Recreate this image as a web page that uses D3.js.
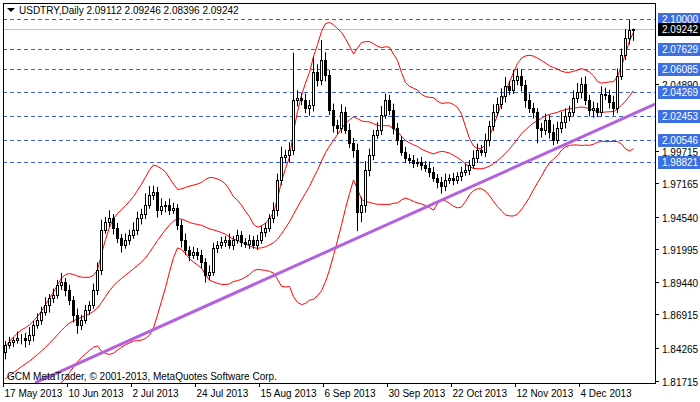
<!DOCTYPE html>
<html><head><meta charset="utf-8">
<script src="https://cdn.jsdelivr.net/npm/d3@7"></script>
<style>body{margin:0;background:#fff}svg{display:block}text{font-family:"Liberation Sans",Arial,sans-serif;font-size:10px}</style>
</head><body><svg id="c" width="700" height="402"></svg>
<script>
const title = "USDTRY,Daily  2.09112 2.09246 2.08396 2.09242";
const watermark = "GCM MetaTrader, © 2001-2013, MetaQuotes Software Corp.";
const preCloses = [1.7985,1.8010,1.8032,1.8021,1.8050,1.8074,1.8102,1.8090,1.8135,1.8160,1.8188,1.8175,1.8210,1.8236,1.8262,1.8250,1.8288,1.8320,1.8345,1.8400];
const closes = [1.8454,1.8477,1.8493,1.8508,1.8508,1.8493,1.8532,1.8610,1.8649,1.8711,1.8766,1.8821,1.8844,1.8922,1.8946,1.8883,1.8805,1.8688,1.8610,1.8649,
1.8727,1.8766,1.8883,1.9039,1.9352,1.9414,1.9445,1.9367,1.9289,1.9235,1.9274,1.9313,1.9352,1.9445,1.9477,1.9547,1.9625,1.9648,1.9508,1.9539,
1.9547,1.9508,1.9524,1.9391,1.9274,1.9195,1.9156,1.9180,1.9156,1.9102,1.9000,1.9024,1.9211,1.9235,1.9258,1.9274,1.9235,1.9274,1.9313,1.9258,
1.9242,1.9274,1.9235,1.9274,1.9336,1.9367,1.9445,1.9508,1.9742,1.9922,1.9937,1.9976,2.0367,2.0383,2.0367,2.0305,2.0328,2.0586,2.0523,2.0679,
2.0562,2.0289,2.0172,2.0148,2.0273,2.0133,2.0031,1.9976,1.9492,1.9547,1.9820,1.9937,2.0094,2.0133,2.0250,2.0367,2.0289,2.0148,2.0055,1.9961,
1.9914,1.9898,1.9875,1.9883,1.9859,1.9836,1.9805,1.9758,1.9727,1.9695,1.9742,1.9758,1.9742,1.9773,1.9805,1.9820,1.9859,1.9914,1.9976,1.9961,
2.0055,2.0164,2.0273,2.0336,2.0398,2.0476,2.0445,2.0523,2.0554,2.0484,2.0367,2.0305,2.0273,2.0148,2.0133,2.0211,2.0117,2.0055,2.0148,2.0195,
2.0242,2.0273,2.0383,2.0429,2.0492,2.0367,2.0289,2.0305,2.0273,2.0414,2.0406,2.0351,2.0305,2.0554,2.0718,2.0851,2.0914,2.0924];
// upper / lower wick lengths, in pips (1e-4)
const wickUp = [30,40,20,50,30,40,60,30,50,40,60,30,50,40,70,30,40,30,50,40,
40,30,50,60,80,40,60,30,40,30,50,40,60,50,40,90,70,50,40,60,
30,50,40,30,40,50,30,40,30,40,30,50,40,30,40,30,50,30,40,30,
30,40,30,40,50,40,30,60,50,80,40,60,370,60,40,50,40,120,60,157,
60,40,50,40,60,40,50,40,50,60,70,50,40,60,70,50,40,50,40,30,
40,30,40,30,40,30,50,40,30,40,50,30,40,30,40,50,40,60,50,40,
50,40,60,50,60,70,40,80,60,50,40,50,40,30,40,50,40,60,50,80,
60,50,60,70,50,60,40,50,40,60,50,40,50,60,50,70,80,1];
const wickDn = [60,30,40,30,50,60,40,50,30,40,30,60,40,30,40,50,40,60,70,40,
30,40,30,40,40,30,40,50,40,60,30,40,30,40,50,40,30,40,60,40,
50,40,30,40,60,40,50,30,40,50,60,40,30,40,30,40,30,40,30,40,
30,40,30,40,30,40,30,40,50,40,50,60,40,50,40,40,60,50,50,40,
50,40,60,50,40,30,40,60,150,80,60,50,40,30,40,30,40,50,40,30,
40,30,40,30,40,30,40,30,50,60,40,30,40,30,40,30,40,30,40,30,
40,50,40,30,40,50,40,30,40,50,60,40,50,120,60,40,50,40,30,40,
50,40,30,40,50,40,50,60,40,30,40,50,60,40,30,40,50,85];
const dateLabels = ["17 May 2013","10 Jun 2013","2 Jul 2013","24 Jul 2013","15 Aug 2013","6 Sep 2013","30 Sep 2013","22 Oct 2013","12 Nov 2013","4 Dec 2013"];
const dateLabelBars = [0,16,32,48,64,80,96,112,128,144];
const levels = [2.10000,2.07629,2.06085,2.04269,2.02453,2.00546,1.98821];
const plainTicks = [2.04890,1.99715,1.97165,1.94540,1.91995,1.89440,1.86915,1.84265,1.81715];
const lastPrice = 2.09242;
const trendBars = [7.5,162.5];
const trendPrices = [1.8157,2.0335];

const svg = d3.select("#c");
const L=3,R=655,T=3,B=383;
const y = d3.scaleLinear().domain([1.81715,2.10000]).range([381,19]);
const x = d3.scaleLinear().domain([0,1]).range([5,9]);
svg.append("rect").attr("x",0).attr("y",0).attr("width",700).attr("height",402).attr("fill","#fff");
svg.append("clipPath").attr("id","cp").append("rect").attr("x",L).attr("y",T).attr("width",R-L).attr("height",B-T);
const pg = svg.append("g").attr("clip-path","url(#cp)");

levels.forEach(v=>{
  pg.append("line").attr("x1",L).attr("x2",R).attr("y1",Math.round(y(v))+0.5).attr("y2",Math.round(y(v))+0.5)
    .attr("stroke","#3d5fd9").attr("stroke-dasharray","4,3").attr("stroke-width",1);
});
pg.append("line").attr("x1",L).attr("x2",R).attr("y1",Math.round(y(lastPrice))+0.5).attr("y2",Math.round(y(lastPrice))+0.5).attr("stroke","#c0c0c0");

const all = preCloses.concat(closes), n=preCloses.length;
const mid=[],up=[],lo=[];
closes.forEach((c,i)=>{
  const w = all.slice(i+n-19,i+n+1);
  const m = d3.mean(w), sd = Math.sqrt(d3.mean(w,v=>(v-m)*(v-m)));
  mid.push([i,m]);up.push([i,m+2*sd]);lo.push([i,m-2*sd]);
});
const ln = d3.line().x(d=>x(d[0])+0.5).y(d=>y(d[1]));
[mid,up,lo].forEach(s=>pg.append("path").attr("d",ln(s)).attr("fill","none").attr("stroke","#ff0000").attr("stroke-width",1));

pg.append("line").attr("x1",x(trendBars[0])).attr("x2",x(trendBars[1])).attr("y1",y(trendPrices[0])).attr("y2",y(trendPrices[1]))
  .attr("stroke","#b462dc").attr("stroke-width",3);

closes.forEach((c,i)=>{
  const o = i===0?preCloses[n-1]:closes[i-1];
  const hi = Math.max(o,c)+wickUp[i]*1e-4, lw = Math.min(o,c)-wickDn[i]*1e-4;
  const xc = Math.round(x(i));
  pg.append("line").attr("x1",xc+0.5).attr("x2",xc+0.5).attr("y1",y(hi)).attr("y2",y(lw)).attr("stroke","#000");
  const yt=Math.round(y(Math.max(o,c))), yb=Math.round(y(Math.min(o,c)));
  const bull = c>=o;
  pg.append("rect").attr("x",xc-1+0.5).attr("y",yt+0.5).attr("width",2).attr("height",Math.max(0,yb-yt))
    .attr("fill",bull?"#fff":"#000").attr("stroke","#000").attr("stroke-width",1);
});

svg.append("rect").attr("x",L+0.5).attr("y",T+0.5).attr("width",R-L).attr("height",B-T).attr("fill","none").attr("stroke","#000");

plainTicks.forEach(v=>{
  const yy=Math.round(y(v))+0.5;
  svg.append("line").attr("x1",R).attr("x2",R+4).attr("y1",yy).attr("y2",yy).attr("stroke","#000");
  svg.append("text").attr("x",R+7).attr("y",yy+4).text(v.toFixed(5));
});
levels.forEach(v=>{
  const yy=Math.round(y(v));
  svg.append("rect").attr("x",R+3).attr("y",yy-6).attr("width",42).attr("height",13).attr("fill","#3d6fe0");
  svg.append("text").attr("x",R+7).attr("y",yy+4).attr("fill","#fff").text(v.toFixed(5));
});
{
  const yy=Math.round(y(lastPrice));
  svg.append("rect").attr("x",R+3).attr("y",yy-6).attr("width",42).attr("height",13).attr("fill","#000");
  svg.append("text").attr("x",R+7).attr("y",yy+4).attr("fill","#fff").text(lastPrice.toFixed(5));
}
dateLabelBars.forEach((b,k)=>{
  const xx=Math.round(x(b))-1.5;
  svg.append("line").attr("x1",xx).attr("x2",xx).attr("y1",B).attr("y2",B+4).attr("stroke","#000");
  svg.append("text").attr("x",xx+1).attr("y",397).text(dateLabels[k]);
});
svg.append("path").attr("d","M7,8 L15,8 L11,12 Z").attr("fill","#000");
svg.append("text").attr("x",19).attr("y",14).text(title);
svg.append("text").attr("x",7).attr("y",380).text(watermark);
</script></body></html>
